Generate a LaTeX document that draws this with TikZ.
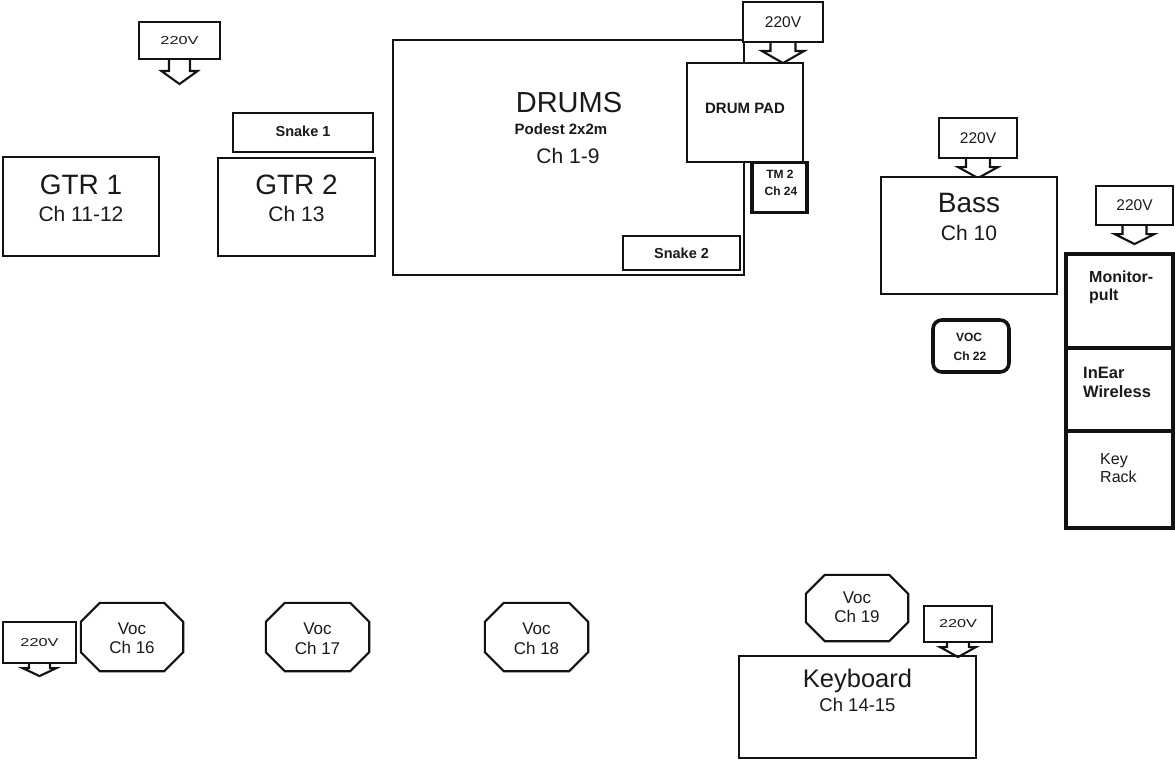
\documentclass[tikz,border=0pt]{standalone}
\usepackage{fontspec}
\setmainfont{Liberation Sans}
\definecolor{ln}{HTML}{121212}
\definecolor{tx}{HTML}{1A1A1A}
\newcommand{\fs}[1]{\fontsize{#1}{#1}\selectfont}
\newcommand{\vtn}{\scalebox{1}[1]{220V}}
\newcommand{\vts}{\scalebox{1.05}[0.74]{220V}}
\newcommand{\octo}[1]{%
  \draw[outl] ([xshift=19pt]#1.north west) -- ([xshift=-19pt]#1.north east)
   -- ([yshift=-19pt]#1.north east) -- ([yshift=19pt]#1.south east)
   -- ([xshift=-19pt]#1.south east) -- ([xshift=19pt]#1.south west)
   -- ([yshift=19pt]#1.south west) -- ([yshift=-19pt]#1.north west) -- cycle;}
% #1 node, #2 stem half width, #3 stem height, #4 wing half width, #5 head height
\newcommand{\parrow}[5]{%
  \draw[outl,line join=miter] ([xshift=-#2pt]#1.south) -- ([xshift=-#2pt,yshift=-#3pt]#1.south)
   -- ([xshift=-#4pt,yshift=-#3pt]#1.south) -- ([yshift={-(#3+#5)*1pt}]#1.south)
   -- ([xshift=#4pt,yshift=-#3pt]#1.south) -- ([xshift=#2pt,yshift=-#3pt]#1.south)
   -- ([xshift=#2pt]#1.south);}
\tikzset{
  outl/.style={draw=ln, line width=2.1pt},
  box/.style={outl, inner sep=0pt, fill=white, rectangle},
  thickbox/.style={box, line width=3.6pt},
  volt/.style={box, text=tx, font=\fs{15.5}},
  lab/.style={anchor=base, text=tx, inner sep=0pt},
  labw/.style={anchor=base west, text=tx, inner sep=0pt},
  big/.style={lab, font=\fs{28}},
  mid/.style={lab, font=\fs{21}},
  bsm/.style={lab, font=\bfseries\fs{15}},
  voc/.style={lab, font=\fs{17}},
}
\begin{document}
\begin{tikzpicture}[x=1pt,y=-1pt]
\useasboundingbox[fill=white] (0,0) rectangle (1175,760);

% guitars
\node[box, minimum width=156pt, minimum height=99pt] (gtr1) at (81,206.5) {};
\node[big] (gtr1t) at (81,194) {GTR 1};
\node[mid] (gtr1c) at (81,221) {Ch 11-12};
\node[volt, minimum width=81pt, minimum height=37pt] (v1) at (179.5,40.5) {\vts};
\parrow{v1}{10.5}{11}{18}{13}

\node[box, minimum width=157pt, minimum height=98pt] (gtr2) at (296.5,207) {};
\node[big] (gtr2t) at (296.5,194) {GTR 2};
\node[mid] (gtr2c) at (296.5,221) {Ch 13};
\node[box, minimum width=140pt, minimum height=39pt] (sn1) at (303,132.5) {};
\node[lab, font=\bfseries\fs{14.5}] (sn1t) at (303,136) {Snake 1};

% drums
\node[box, minimum width=351pt, minimum height=235pt] (drums) at (568.5,157.5) {};
\node[lab, font=\fs{29}] (drumst) at (569,112) {DRUMS};
\node[bsm] (podest) at (561,134) {Podest 2x2m};
\node[mid] (drumsc) at (568,163) {Ch 1-9};
\node[volt, minimum width=80pt, minimum height=40pt] (v2) at (783,22) {\vtn};
\parrow{v2}{12.5}{8}{21}{12}
\node[box, minimum width=116pt, minimum height=99pt] (pad) at (745,112.5) {};
\node[bsm] (padt) at (745,113) {DRUM PAD};
\node[thickbox, minimum width=55pt, minimum height=50pt] (tm2) at (779.5,187.5) {};
\node[lab, font=\bfseries\fs{12}] (tm2a) at (780,178) {TM 2};
\node[lab, font=\bfseries\fs{12}] (tm2b) at (781,195) {Ch 24};
\node[box, minimum width=117pt, minimum height=34pt] (sn2) at (681.5,253) {};
\node[lab, font=\bfseries\fs{14.5}] (sn2t) at (681.5,258) {Snake 2};

% bass
\node[volt, minimum width=78pt, minimum height=40pt] (v3) at (978,138) {\vtn};
\parrow{v3}{12}{8}{20}{11}
\node[box, minimum width=176pt, minimum height=117pt] (bass) at (969,235.5) {};
\node[big] (basst) at (969,212) {Bass};
\node[mid] (bassc) at (969,240) {Ch 10};
\node[thickbox, rounded corners=9pt, minimum width=76pt, minimum height=52pt] (voc22) at (971,346) {};
\node[lab, font=\bfseries\fs{12}] (voc22a) at (969,341) {VOC};
\node[lab, font=\bfseries\fs{12}] (voc22b) at (970,360) {Ch 22};

% rack
\node[volt, minimum width=77pt, minimum height=39pt] (v4) at (1134.5,205.5) {\vtn};
\parrow{v4}{12}{8}{20}{10}
\node[thickbox, minimum width=107pt, minimum height=94pt] (mon) at (1119.5,301) {};
\node[thickbox, minimum width=107pt, minimum height=83pt] (inear) at (1119.5,389.5) {};
\node[thickbox, minimum width=107pt, minimum height=97pt] (krack) at (1119.5,479.5) {};
\node[labw, font=\bfseries\fs{16}] (mona) at (1089,282) {Monitor-};
\node[labw, font=\bfseries\fs{16}] (monb) at (1089,300) {pult};
\node[labw, font=\bfseries\fs{16.5}] (ina) at (1083,378) {InEar};
\node[labw, font=\bfseries\fs{16.5}] (inb) at (1083,397) {Wireless};
\node[labw, font=\fs{16}] (ka) at (1100,464) {Key};
\node[labw, font=\fs{16}] (kb) at (1100,482) {Rack};

% vocals
\node[volt, minimum width=73pt, minimum height=41pt] (v5) at (39.5,642.5) {\vts};
\parrow{v5}{10.5}{4}{17}{8}
\node[minimum width=102pt, minimum height=68pt, inner sep=0pt] (voc16) at (132,637) {};
\octo{voc16}
\node[voc] (voc16a) at (132,634) {Voc};
\node[voc] (voc16b) at (132,653) {Ch 16};
\node[minimum width=103pt, minimum height=68pt, inner sep=0pt] (voc17) at (317.5,637) {};
\octo{voc17}
\node[voc] (voc17a) at (317.5,634) {Voc};
\node[voc] (voc17b) at (317.5,654) {Ch 17};
\node[minimum width=103pt, minimum height=68pt, inner sep=0pt] (voc18) at (536.5,637) {};
\octo{voc18}
\node[voc] (voc18a) at (536.5,634) {Voc};
\node[voc] (voc18b) at (536.5,654) {Ch 18};
\node[minimum width=102pt, minimum height=66pt, inner sep=0pt] (voc19) at (857,608) {};
\octo{voc19}
\node[voc] (voc19a) at (857,603) {Voc};
\node[voc] (voc19b) at (857,622) {Ch 19};

% keyboard
\node[box, minimum width=237pt, minimum height=102pt] (keys) at (857.5,707) {};
\node[lab, font=\fs{25.5}] (keyst) at (857.5,687) {Keyboard};
\node[lab, font=\fs{18.5}] (keysc) at (857.5,711) {Ch 14-15};
\node[volt, minimum width=68pt, minimum height=36pt] (v6) at (958,624) {\vts};
\parrow{v6}{11}{4}{18}{10}
\end{tikzpicture}
\end{document}
